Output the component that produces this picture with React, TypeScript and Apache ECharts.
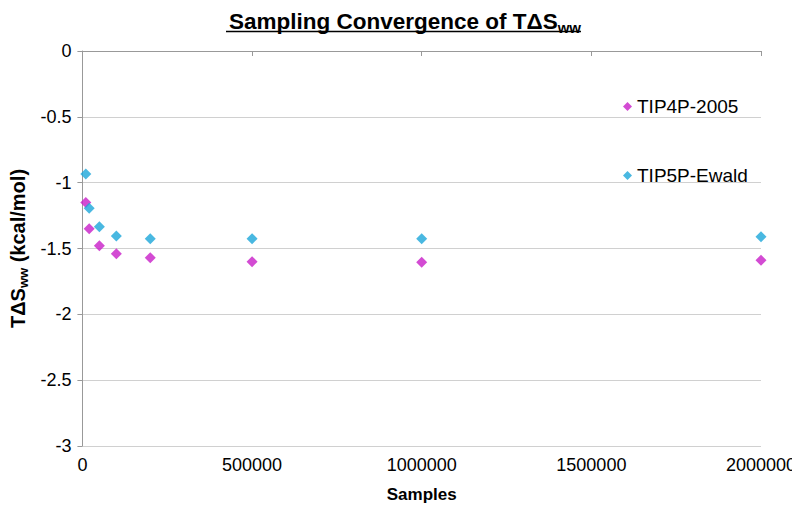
import React, { useEffect, useRef } from "react";
import * as echarts from "echarts";

const samples = [10000, 20000, 50000, 100000, 200000, 500000, 1000000, 2000000];
const tip4p = [-1.15, -1.35, -1.48, -1.54, -1.57, -1.6, -1.605, -1.59];
const tip5p = [-0.935, -1.195, -1.335, -1.405, -1.425, -1.425, -1.425, -1.41];
const seriesNames = ["TIP4P-2005", "TIP5P-Ewald"];
const colors = ["#C81EC8", "#1CA6DA"];
const FONT = "Liberation Sans, Arial, sans-serif";

export default function App() {
  const ref = useRef<HTMLDivElement>(null);
  useEffect(() => {
    const chart = echarts.init(ref.current!, null, { renderer: "svg" });
    const toPairs = (ys: number[]) => samples.map((x, i) => [x, ys[i]]);
    chart.setOption({
      animation: false,
      backgroundColor: "#ffffff",
      textStyle: { fontFamily: FONT },
      title: {
        text: "{a|Sampling Convergence of TΔS}{b|ww}",
        left: 400,
        textAlign: "center",
        top: 2,
        textStyle: {
          rich: {
            a: { fontFamily: FONT, fontWeight: "bold", fontSize: 22.5, color: "#000", lineHeight: 28 },
            b: { fontFamily: FONT, fontWeight: "bold", fontSize: 15, color: "#000", padding: [12, 0, 0, 0], lineHeight: 28 },
          },
        },
      },
      graphic: [
        {
          type: "line",
          shape: { x1: 226, y1: 31.5, x2: 581, y2: 31.5 },
          style: { stroke: "#000", lineWidth: 1.5 },
        },
      ],
      legend: {
        orient: "vertical",
        left: 618,
        top: 92,
        itemGap: 50,
        itemWidth: 9,
        itemHeight: 9,
        icon: "diamond",
        textStyle: { fontFamily: FONT, fontSize: 19, color: "#000" },
        data: seriesNames,
      },
      grid: { left: 82, right: 39, top: 51, bottom: 69 },
      xAxis: {
        type: "value",
        min: 0,
        max: 2000000,
        interval: 500000,
        name: "Samples",
        nameLocation: "middle",
        nameGap: 40,
        nameTextStyle: { fontFamily: FONT, fontWeight: "bold", fontSize: 17, color: "#000" },
        axisLine: { show: true, lineStyle: { color: "#999" } },
        axisTick: { show: true, length: 5, lineStyle: { color: "#999" } },
        axisLabel: { fontFamily: FONT, fontSize: 18, color: "#000", margin: 10, formatter: (v: number) => String(v) },
        splitLine: { show: false },
      },
      yAxis: {
        type: "value",
        min: -3,
        max: 0,
        interval: 0.5,
        name: "{a|TΔS}{b|ww}{a| (kcal/mol)}",
        nameLocation: "middle",
        nameRotate: 90,
        nameGap: 50,
        nameTextStyle: {
          rich: {
            a: { fontFamily: FONT, fontWeight: "bold", fontSize: 20, color: "#000" },
            b: { fontFamily: FONT, fontWeight: "bold", fontSize: 13, color: "#000", padding: [10, 0, 0, 0] },
          },
        },
        axisLine: { show: true, lineStyle: { color: "#999" } },
        axisTick: { show: true, length: 5, lineStyle: { color: "#999" } },
        axisLabel: { fontFamily: FONT, fontSize: 18, color: "#000", margin: 11 },
        splitLine: { show: true, lineStyle: { color: "#D0D0D0" } },
      },
      series: [
        {
          name: seriesNames[0],
          type: "scatter",
          symbol: "diamond",
          symbolSize: 11,
          itemStyle: { color: colors[0] },
          data: toPairs(tip4p),
        },
        {
          name: seriesNames[1],
          type: "scatter",
          symbol: "diamond",
          symbolSize: 11,
          itemStyle: { color: colors[1] },
          data: toPairs(tip5p),
        },
      ],
    });
    return () => chart.dispose();
  }, []);
  return <div ref={ref} style={{ width: 800, height: 515, margin: -8 }} />;
}
